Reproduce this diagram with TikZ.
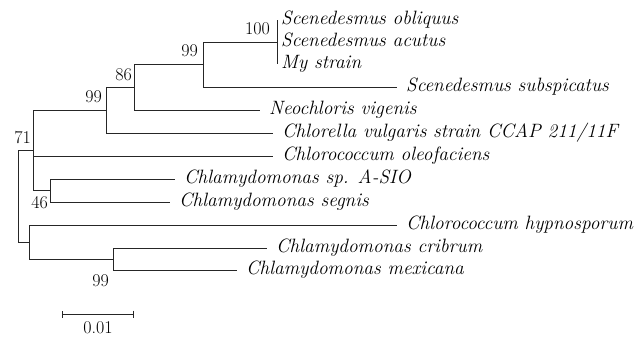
\documentclass[tikz,border=0pt]{standalone}
\usepackage{fontspec}
\usetikzlibrary{arrows.meta}

\begin{document}
\begin{tikzpicture}[
  x=1pt, y=-1pt,
  br/.style={draw=black!85, line width=1pt},
  leaf/.style={anchor=west, inner xsep=9pt, inner ysep=0pt, text height=0.8em, text depth=0em,
               font=\fontsize{19.3}{22}\selectfont\itshape},
  bs/.style={inner sep=0pt, anchor=base east, font=\fontsize{18}{20}\selectfont},
  bar/.style={br, {Bar[width=7pt]}-{Bar[width=7pt]}}
]
\useasboundingbox (0,0) rectangle (643,338);

\coordinate (rt) at ( 18,196);
\coordinate (a)  at ( 33,150);
\coordinate (b)  at (106,110);
\coordinate (c)  at (134, 87);
\coordinate (d)  at (203,64.5);
\coordinate (e)  at (277, 42);
\coordinate (f)  at ( 50,190.5);
\coordinate (g)  at ( 29,242);
\coordinate (h)  at (113,259);

\node[leaf, inner xsep=4pt] (sob) at (277, 20) {Scenedesmus obliquus};
\node[leaf, inner xsep=4pt] (sac) at (277, 42) {Scenedesmus acutus};
\node[leaf, inner xsep=4pt] (my)  at (277, 64) {My strain};
\node[leaf] (ssp) at (397, 87) {Scenedesmus subspicatus};
\node[leaf] (nv)  at (260,110) {Neochloris vigenis};
\node[leaf] (cv)  at (273,133) {Chlorella vulgaris strain CCAP 211/11F};
\node[leaf] (co)  at (273,156) {Chlorococcum oleofaciens};
\node[leaf] (csp) at (175,179) {Chlamydomonas sp. A-SIO};
\node[leaf] (cs)  at (170,202) {Chlamydomonas segnis};
\node[leaf] (ch)  at (397,225) {Chlorococcum hypnosporum};
\node[leaf] (cc)  at (267,248) {Chlamydomonas cribrum};
\node[leaf] (cm)  at (237,270) {Chlamydomonas mexicana};

\draw[br] (rt) |- (a);
\draw[br] (rt) |- (g);
\draw[br] (a) |- (b);
\draw[br] (a) |- (co.west);
\draw[br] (a) |- (f);
\draw[br] (b) |- (c);
\draw[br] (b) |- (cv.west);
\draw[br] (c) |- (d);
\draw[br] (c) |- (nv.west);
\draw[br] (d) |- (e);
\draw[br] (d) |- (ssp.west);
\draw[br] (e) |- (sob.west);
\draw[br] (e) |- (my.west);
\draw[br] (f) |- (csp.west);
\draw[br] (f) |- (cs.west);
\draw[br] (g) |- (ch.west);
\draw[br] (g) |- (h);
\draw[br] (h) |- (cc.west);
\draw[br] (h) |- (cm.west);

\node[bs] (bs100) at (270, 34) {100};
\node[bs] (bsd)   at (198, 56) {99};
\node[bs] (bsc)   at (132, 80) {86};
\node[bs] (bsb)   at (102,102) {99};
\node[bs] (bsa)   at ( 31,143) {71};
\node[bs] (bsf)   at ( 48,208) {46};
\node[bs] (bsh)   at (109,286) {99};

\coordinate (s0) at ( 62,314);
\coordinate (s1) at (134,314);
\draw[bar] (s0) -- (s1);
\node[bs, anchor=base] (sl) at (98,333) {0.01};
\end{tikzpicture}
\end{document}
